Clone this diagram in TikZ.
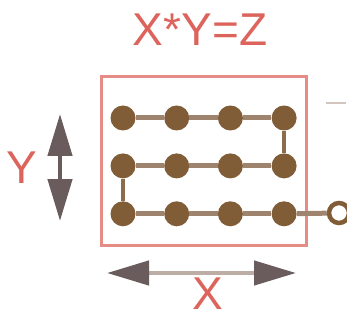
\documentclass[tikz,border=0pt]{standalone}
\usepackage{fontspec}
\setmainfont{Liberation Sans}
\usepackage{xcolor}
\usepackage{tikz}
\usetikzlibrary{arrows.meta, positioning}

\definecolor{labelred}{RGB}{220,100,92}
\definecolor{boxred}{RGB}{230,140,135}
\definecolor{beadbrown}{RGB}{128,92,55}
\definecolor{linkbrown}{RGB}{158,132,110}
\definecolor{arrowgray}{RGB}{106,92,92}
\definecolor{shaftgray}{RGB}{188,174,164}

\begin{document}
\begin{tikzpicture}[
  x=1pt,
  y=-1pt,
  biglabel/.style={
    text=labelred,
    font=\fontsize{46}{46}\selectfont,
    inner sep=0pt
  },
  bead/.style={
    circle,
    fill=beadbrown,
    minimum size=25pt,
    inner sep=0pt
  },
  rowlink/.style={
    draw=linkbrown,
    line width=5pt
  },
  turnlink/.style={
    draw=beadbrown!90!white,
    line width=3.5pt
  },
  sizearrow/.style={
    {Triangle[length=42pt,width=24pt,color=arrowgray]}-{Triangle[length=42pt,width=24pt,color=arrowgray]},
    draw=shaftgray,
    line width=4.5pt
  },
  node distance=22.5pt and 28.3pt
]
\useasboundingbox (0,0) rectangle (347,320);

% frame
\draw[boxred, line width=3pt] (101,77) rectangle (306,245);

% beads
\node[bead] (b11) at (123,118) {};
\node[bead, right=of b11] (b12) {};
\node[bead, right=of b12] (b13) {};
\node[bead, right=of b13] (b14) {};
\node[bead, below=of b11] (b21) {};
\node[bead, right=of b21] (b22) {};
\node[bead, right=of b22] (b23) {};
\node[bead, right=of b23] (b24) {};
\node[bead, below=of b21] (b31) {};
\node[bead, right=of b31] (b32) {};
\node[bead, right=of b32] (b33) {};
\node[bead, right=of b33] (b34) {};

\node[circle, draw=beadbrown, line width=4.5pt, fill=white,
      minimum size=20pt, inner sep=0pt] (tail) at (339,213) {};

\draw[rowlink] (b11) -- (b12) -- (b13) -- (b14);
\draw[rowlink] (b21) -- (b22) -- (b23) -- (b24);
\draw[rowlink] (b31) -- (b32) -- (b33) -- (b34);
\draw[turnlink] (b14) -- (b24);
\draw[turnlink] (b21) -- (b31);
\draw[rowlink] (b34) -- (tail);

% tick at the right
\draw[shaftgray!70, line width=1.5pt] (326,103) -- (346,103);

% size arrows
\coordinate (ytop) at (60,114);
\coordinate (ybot) at (60,221);
\coordinate (xleft) at (107,273);
\coordinate (xright) at (296,273);
\draw[sizearrow, draw=arrowgray] (ytop) -- (ybot);
\draw[sizearrow] (xleft) -- (xright);

% labels
\node[biglabel] (title) at (200,30) {X*Y=Z};
\node[biglabel] (ylabel) at (22,168) {Y};
\node[biglabel] (xlabel) at (208,294) {X};

\end{tikzpicture}
\end{document}
